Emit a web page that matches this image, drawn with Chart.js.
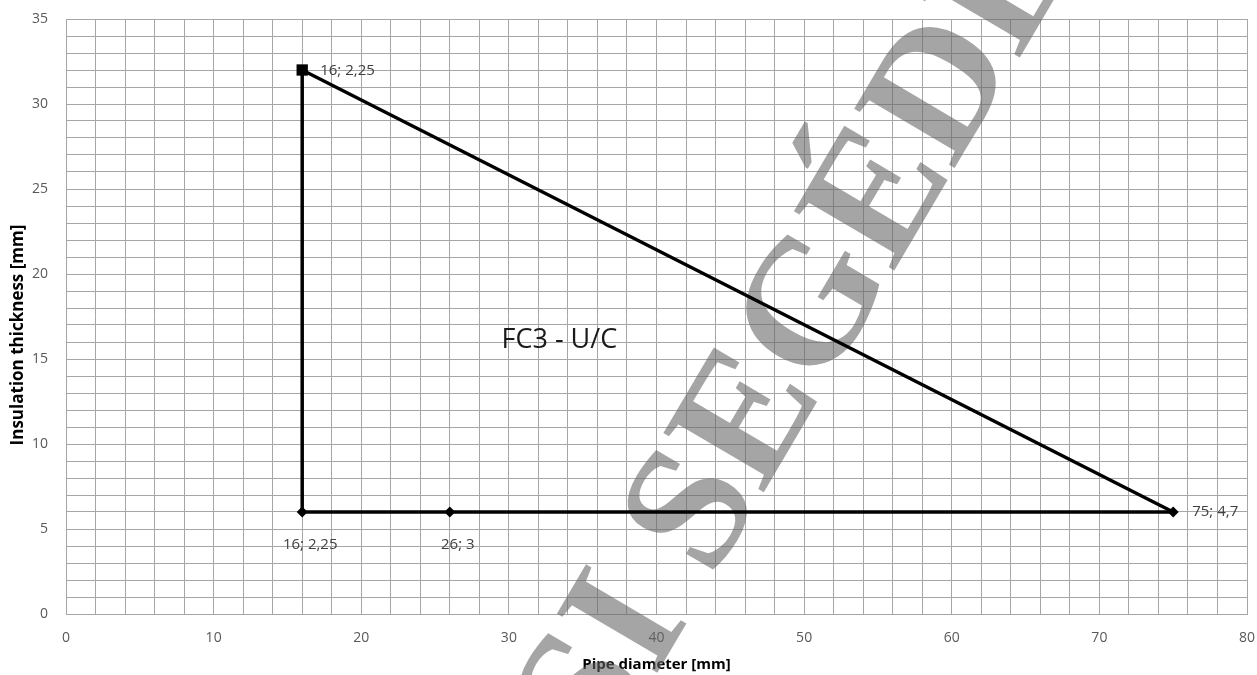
<!DOCTYPE html>
<html lang="hu">
<head>
    <meta charset="UTF-8">
    <title>FC3 - U/C</title>
    <script src="https://cdn.jsdelivr.net/npm/chart.js"></script>
    <style>
        html, body { margin: 0; padding: 0; background: #fff; }
        #wrap { width: 1257px; height: 675px; }
    </style>
</head>
<body>
    <div id="wrap"><canvas id="fcChart"></canvas></div>

    <script>
        // triangle outline: bottom-left corner -> top corner -> bottom-right corner
        const edgeDiameters = [16, 16, 75];
        const edgeThickness = [6, 32, 6];
        // base line points (diamond markers)
        const baseDiameters = [16, 26, 75];
        const baseThickness = [6, 6, 6];
        const baseLabels = ['16; 2,25', '26; 3', '75; 4,7'];
        const topLabel = '16; 2,25';
        const areaLabel = 'FC3 - U/C';
        const watermarkText = 'OKTATÁSI SEGÉDLET';

        const xTicks = [0, 10, 20, 30, 40, 50, 60, 70, 80];
        const yTicks = [0, 5, 10, 15, 20, 25, 30, 35];

        const font = '"Open Sans", "Liberation Sans", sans-serif';
        const gridColor = '#a6a6a6';

        const edgePoints = edgeDiameters.map((x, i) => ({ x: x, y: edgeThickness[i] }));
        const basePoints = baseDiameters.map((x, i) => ({ x: x, y: baseThickness[i] }));

        // big grey watermark, drawn under the lines
        const watermark = {
            id: 'watermark',
            beforeDatasetsDraw(chart) {
                const ctx = chart.ctx;
                ctx.save();
                ctx.translate(712, 580);
                ctx.rotate(-59.5 * Math.PI / 180);
                ctx.font = 'bold 178px "Liberation Serif", serif';
                ctx.fillStyle = 'rgba(100, 100, 100, 0.58)';
                ctx.textBaseline = 'alphabetic';
                const parts = watermarkText.split(' ');
                ctx.textAlign = 'right';
                ctx.fillText(parts[0] + ' ', 0, 0);
                ctx.textAlign = 'left';
                ctx.fillText(parts[1], 0, 0);
                ctx.restore();
            }
        };

        // point labels, area label and the y axis title
        const labels = {
            id: 'labels',
            afterDatasetsDraw(chart) {
                const ctx = chart.ctx;
                const xs = chart.scales.x, ys = chart.scales.y;
                ctx.save();
                ctx.fillStyle = '#404040';
                ctx.font = '15px ' + font;
                ctx.textBaseline = 'middle';

                // top corner
                ctx.textAlign = 'left';
                ctx.fillText(topLabel, xs.getPixelForValue(edgeDiameters[1]) + 18, ys.getPixelForValue(edgeThickness[1]) + 1);

                // base points: first two below, last one to the right
                ctx.textAlign = 'center';
                for (let i = 0; i < 2; i++) {
                    ctx.fillText(baseLabels[i], xs.getPixelForValue(baseDiameters[i]) + 8, ys.getPixelForValue(baseThickness[i]) + 33);
                }
                ctx.textAlign = 'left';
                ctx.fillText(baseLabels[2], xs.getPixelForValue(baseDiameters[2]) + 19, ys.getPixelForValue(baseThickness[2]));

                ctx.fillStyle = '#1a1a1a';
                ctx.font = '27px ' + font;
                ctx.fillText(areaLabel, xs.getPixelForValue(29.5), ys.getPixelForValue(16.1));

                // y axis title, sitting a bit below the middle like the original
                ctx.fillStyle = '#000';
                ctx.font = 'bold 17px ' + font;
                ctx.textAlign = 'center';
                ctx.translate(18, 335);
                ctx.rotate(-Math.PI / 2);
                ctx.fillText('Insulation thickness [mm]', 0, 0);
                ctx.restore();
            }
        };

        const ctx = document.getElementById('fcChart').getContext('2d');
        const fcChart = new Chart(ctx, {
            type: 'scatter',
            data: {
                datasets: [
                    {
                        label: 'edges',
                        data: edgePoints,
                        showLine: true,
                        borderColor: '#000',
                        borderWidth: 3.5,
                        backgroundColor: '#000',
                        pointStyle: 'rect',
                        pointRadius: [0, 8, 0],
                        pointBorderWidth: 0,
                        order: 2
                    },
                    {
                        label: 'base',
                        data: basePoints,
                        showLine: true,
                        borderColor: '#000',
                        borderWidth: 3.5,
                        backgroundColor: '#000',
                        pointStyle: 'rectRot',
                        pointRadius: 5.5,
                        pointBorderWidth: 0,
                        order: 1
                    }
                ]
            },
            options: {
                responsive: true,
                maintainAspectRatio: false,
                animation: false,
                layout: { padding: { top: 19, right: 10, left: 0, bottom: 0 } },
                plugins: {
                    legend: { display: false },
                    tooltip: { enabled: false }
                },
                scales: {
                    x: {
                        type: 'linear',
                        min: 0,
                        max: 80,
                        afterFit(scale) {
                            scale.height = 61;
                            scale.paddingLeft = 0;
                            scale.paddingRight = 0;
                        },
                        grid: { color: gridColor, lineWidth: 1, drawTicks: false },
                        border: { color: gridColor, width: 1 },
                        ticks: {
                            stepSize: 2,
                            autoSkip: false,
                            maxRotation: 0,
                            padding: 16,
                            color: '#595959',
                            font: { family: font, size: 14 },
                            callback: v => xTicks.includes(v) ? v : ''
                        },
                        title: {
                            display: true,
                            text: 'Pipe diameter [mm]',
                            color: '#000',
                            font: { family: font, size: 15, weight: 'bold' },
                            padding: { top: 0, bottom: 1 }
                        }
                    },
                    y: {
                        type: 'linear',
                        min: 0,
                        max: 35,
                        afterFit(scale) {
                            scale.width = 66;
                            scale.paddingTop = 0;
                            scale.paddingBottom = 0;
                        },
                        grid: { color: gridColor, lineWidth: 1, drawTicks: false },
                        border: { color: gridColor, width: 1 },
                        ticks: {
                            stepSize: 1,
                            autoSkip: false,
                            padding: 18,
                            color: '#595959',
                            font: { family: font, size: 14 },
                            callback: v => yTicks.includes(v) ? v : ''
                        },
                        title: { display: false }
                    }
                }
            },
            plugins: [watermark, labels]
        });
    </script>
</body>
</html>
